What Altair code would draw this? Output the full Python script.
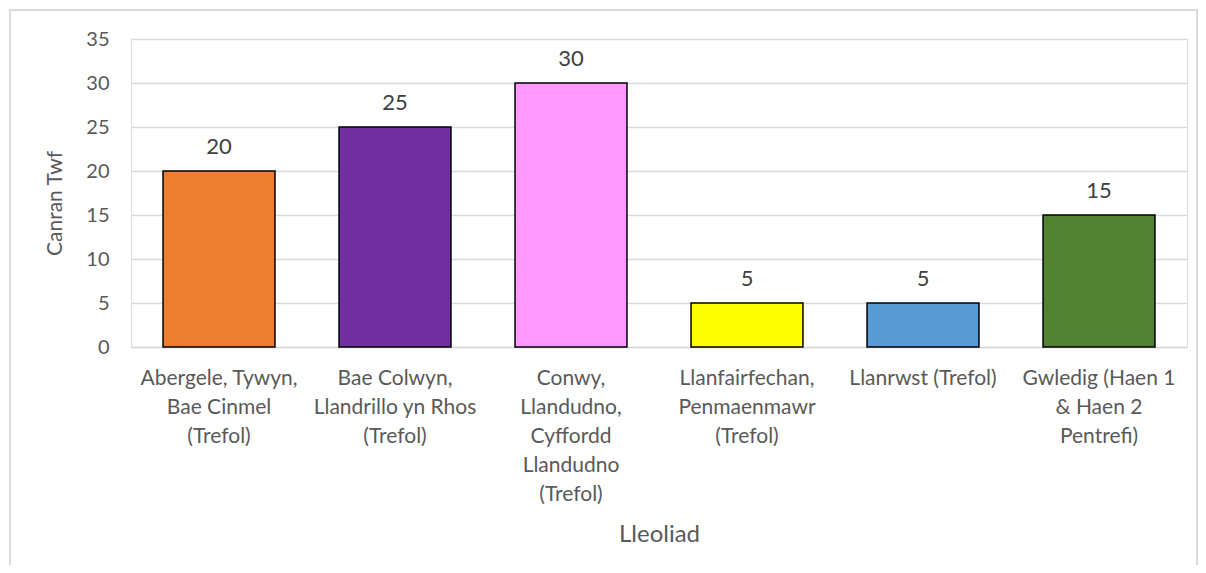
import altair as alt
import pandas as pd

categories = [
    "Abergele, Tywyn,|Bae Cinmel|(Trefol)",
    "Bae Colwyn,|Llandrillo yn Rhos|(Trefol)",
    "Conwy,|Llandudno,|Cyffordd|Llandudno|(Trefol)",
    "Llanfairfechan,|Penmaenmawr|(Trefol)",
    "Llanrwst (Trefol)",
    "Gwledig (Haen 1|& Haen 2|Pentrefi)",
]
values = [20, 25, 30, 5, 5, 15]
colors = ["#ED7D31", "#7030A0", "#FF99FF", "#FFFF00", "#5B9BD5", "#548235"]

df = pd.DataFrame({"cat": categories, "val": values, "color": colors})

FONT = "Lato"
TXT = "#595959"

x = alt.X("cat:N", sort=categories, title="Lleoliad",
          scale=alt.Scale(paddingInner=0.364, paddingOuter=0.182),
          axis=alt.Axis(labelAngle=0, labelExpr="split(datum.label, '|')",
                        labelLineHeight=29, labelFontSize=21, labelColor=TXT,
                        labelFont=FONT, labelPadding=20, ticks=False,
                        domainColor="#D9D9D9", domainWidth=1.5,
                        titleFontSize=24, titleFont=FONT, titleColor=TXT,
                        titleFontWeight="normal", titlePadding=18,
                        labelBaseline="top", labelLimit=300))
y = alt.Y("val:Q", title="Canran Twf",
          scale=alt.Scale(domain=[0, 35]),
          axis=alt.Axis(values=[0, 5, 10, 15, 20, 25, 30, 35], ticks=False,
                        domain=False, gridColor="#D9D9D9", gridWidth=1.5,
                        labelFontSize=20, labelColor=TXT, labelFont=FONT,
                        labelPadding=22, titleFontSize=21, titleFont=FONT,
                        titleColor=TXT, titleFontWeight="normal", titlePadding=20,
                        titleY=164))

bars = alt.Chart(df).mark_bar(stroke="black", strokeWidth=1.5).encode(
    x=x, y=y, color=alt.Color("color:N", scale=None))

labels = alt.Chart(df).mark_text(baseline="bottom", dy=-12, fontSize=22,
                                 font=FONT, color="#404040").encode(
    x=alt.X("cat:N", sort=categories), y="val:Q", text="val:Q")

frame = alt.Chart(df).mark_rect(fill=None, stroke="#D9D9D9", strokeWidth=1.5).encode(
    x=alt.value(-121), x2=alt.value(1066), y=alt.value(-29), y2=alt.value(600))

chart = alt.layer(frame, bars, labels).properties(
    width=1056, height=308,
    autosize=alt.AutoSizeParams(type="none"),
    padding={"left": 123, "top": 31, "right": 11, "bottom": 218},
).configure_view(stroke=None).configure(background="white")

chart.save("out.html", embed_options={"renderer": "svg", "actions": False})
